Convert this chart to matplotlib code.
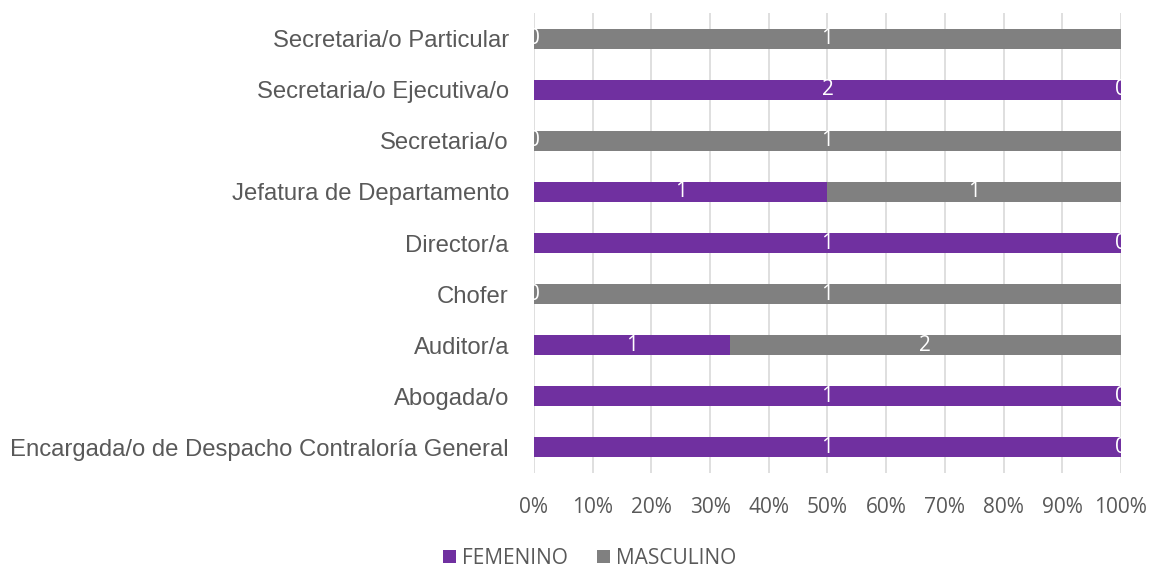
import numpy as np
import matplotlib.pyplot as plt

categories = ['Encargada/o de Despacho Contraloría General', 'Abogada/o', 'Auditor/a',
              'Chofer', 'Director/a', 'Jefatura de Departamento', 'Secretaria/o',
              'Secretaria/o Ejecutiva/o', 'Secretaria/o Particular']
femenino = np.array([1, 1, 1, 0, 1, 1, 0, 2, 0])
masculino = np.array([0, 0, 2, 1, 0, 1, 1, 0, 1])

total = femenino + masculino
f_pct = femenino / total
m_pct = masculino / total

purple = '#7030A0'
gray = '#808080'
text_col = '#595959'

fig = plt.figure(figsize=(11.54, 5.69), dpi=100)
ax = fig.add_axes([0.4627, 0.1687, 0.5087, 0.8084])

y = np.arange(len(categories))
h = 0.39
ax.barh(y, f_pct, height=h, color=purple, label='FEMENINO', zorder=3)
ax.barh(y, m_pct, left=f_pct, height=h, color=gray, label='MASCULINO', zorder=3)

# data labels, centred in each segment and clipped by the plot area like Excel
for i in range(len(categories)):
    ax.text(f_pct[i] / 2, y[i], str(femenino[i]), color='white', fontsize=15,
            family='Open Sans', ha='center', va='center', clip_on=True, zorder=4)
    ax.text(f_pct[i] + m_pct[i] / 2, y[i], str(masculino[i]), color='white', fontsize=15,
            family='Open Sans', ha='center', va='center', clip_on=True, zorder=4)

ax.set_xlim(0, 1)
ax.set_ylim(-0.5, len(categories) - 0.5)
ax.set_xticks(np.linspace(0, 1, 11))
ax.set_xticklabels([f'{int(v)}%' for v in np.linspace(0, 100, 11)], family='Open Sans',
                   fontsize=15, color=text_col)
ax.set_yticks(y)
ax.set_yticklabels(categories, family='Liberation Sans', fontsize=17.2, color=text_col)
ax.tick_params(axis='both', length=0)
ax.tick_params(axis='x', pad=17)
ax.tick_params(axis='y', pad=18)
ax.grid(axis='x', color='#D9D9D9', lw=1.2, zorder=0)
for s in ax.spines.values():
    s.set_visible(False)

fig.legend(loc='center', bbox_to_anchor=(0.511, 0.019), ncol=2, frameon=False,
           prop={'family': 'Open Sans', 'size': 15}, labelcolor=text_col,
           handlelength=0.63, handleheight=0.63, handletextpad=0.3, columnspacing=1.4,
           borderpad=0)

fig.savefig('out.png', dpi=100)
